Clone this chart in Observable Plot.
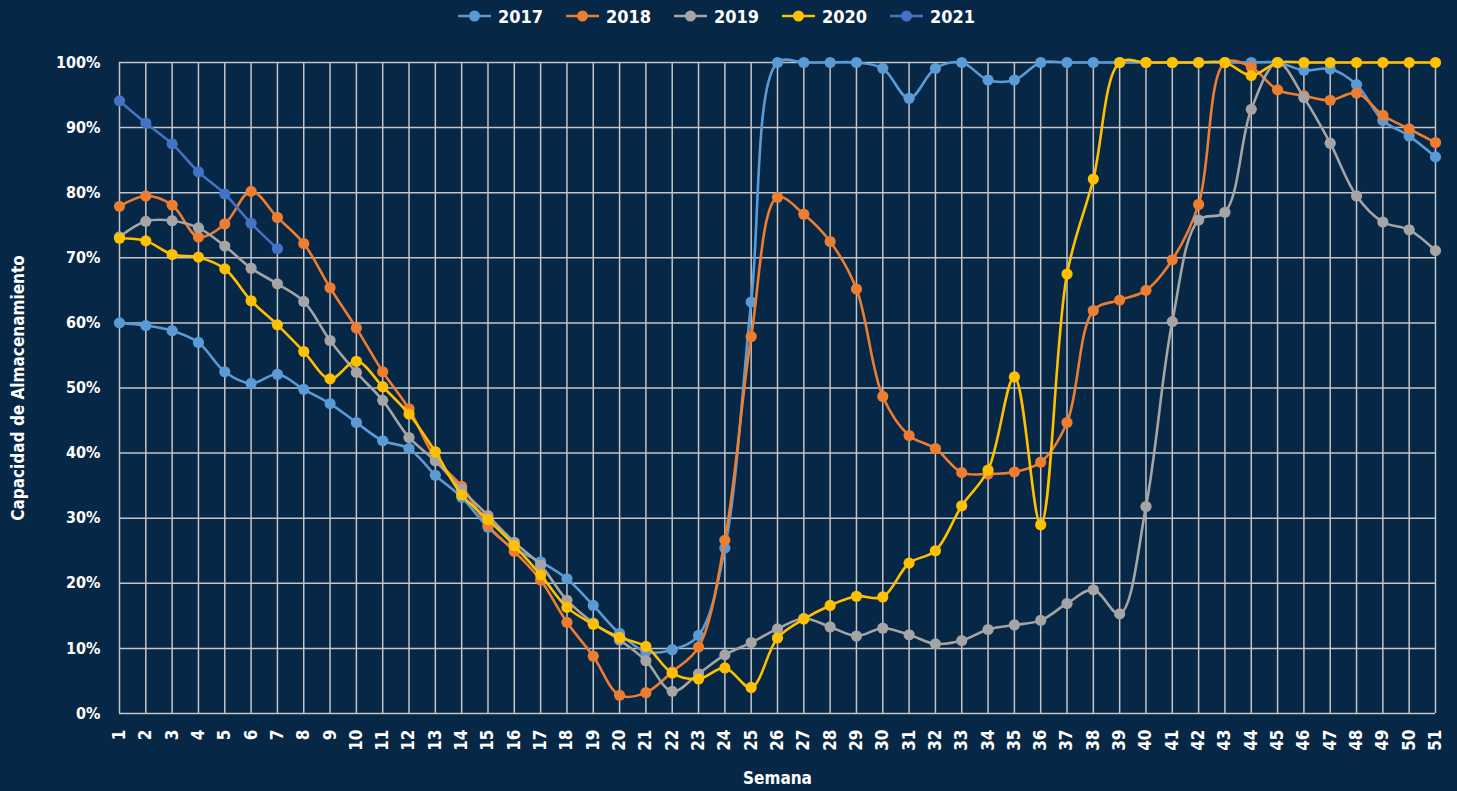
<!DOCTYPE html>
<html><head><meta charset="utf-8">
<script src="https://cdn.jsdelivr.net/npm/d3@7"></script>
<script src="https://cdn.jsdelivr.net/npm/@observablehq/plot@0.6"></script>
<style>
html,body{margin:0;padding:0;background:#072746;width:1457px;height:791px;overflow:hidden;font-family:"DejaVu Sans Condensed","DejaVu Sans",sans-serif;}
#legend{height:32px;display:flex;align-items:center;padding-left:458px;box-sizing:border-box;}
.item{display:inline-flex;align-items:center;width:108px;color:#fff;font-weight:bold;font-size:18px;}
.item svg{margin-right:7px;}
#chart svg{display:block;}
</style></head><body>
<div id="legend"></div>
<div id="chart"></div>
<script>
const weeks = [1,2,3,4,5,6,7,8,9,10,11,12,13,14,15,16,17,18,19,20,21,22,23,24,25,26,27,28,29,30,31,32,33,34,35,36,37,38,39,40,41,42,43,44,45,46,47,48,49,50,51];
const years = ["2017","2018","2019","2020","2021"];
const colors = ["#5B9BD5","#ED7D31","#A5A5A5","#FFC000","#4472C4"];
const v2017 = [60.0,59.6,58.8,57.0,52.5,50.7,52.1,49.8,47.6,44.7,41.9,40.7,36.6,33.2,28.6,25.3,23.3,20.7,16.6,12.3,9.5,9.8,12.0,25.4,63.2,100,100,100,100,99.1,94.5,99.1,100,97.3,97.3,100,100,100,100,100,100,100,100,100,100,98.8,99.0,96.6,91.1,88.7,85.5];
const v2018 = [77.9,79.5,78.1,73.2,75.2,80.2,76.2,72.2,65.4,59.2,52.5,46.8,39.2,34.9,28.9,24.9,20.5,14.0,8.8,2.8,3.2,6.4,10.2,26.6,57.9,79.3,76.7,72.5,65.2,48.7,42.7,40.7,37.0,36.8,37.1,38.6,44.7,61.9,63.5,65.0,69.7,78.2,100,99.3,95.8,94.9,94.2,95.3,91.9,89.8,87.7];
const v2019 = [73.2,75.6,75.7,74.6,71.8,68.4,66.0,63.3,57.3,52.4,48.1,42.4,38.8,34.4,30.4,26.3,22.8,17.4,13.9,11.3,8.1,3.4,6.1,9.0,10.9,13.0,14.6,13.3,11.9,13.1,12.1,10.7,11.2,12.9,13.6,14.3,16.9,19.0,15.3,31.8,60.2,75.8,77.0,92.8,100,94.6,87.6,79.5,75.5,74.3,71.1];
const v2020 = [73.0,72.6,70.5,70.1,68.3,63.4,59.7,55.6,51.4,54.1,50.2,46.0,40.2,33.6,29.8,25.8,21.3,16.3,13.7,11.7,10.3,6.2,5.3,7.0,4.0,11.6,14.5,16.6,18.0,17.9,23.1,25.0,31.9,37.4,51.7,29.0,67.5,82.1,100,100,100,100,100,98.0,100,100,100,100,100,100,100];
const v2021 = [94.1,90.7,87.5,83.2,79.8,75.3,71.4];
const yTicks = [0,10,20,30,40,50,60,70,80,90,100];
const xTitle = "Semana";
const yTitle = "Capacidad de Almacenamiento";

const seriesValues = [v2017, v2018, v2019, v2020, v2021];
const data = [];
years.forEach((yr, i) => seriesValues[i].forEach((v, j) => data.push({year: yr, week: weeks[j], value: v})));

// legend
const leg = document.getElementById("legend");
years.forEach((yr, i) => {
  const d = document.createElement("div");
  d.className = "item";
  d.innerHTML = `<svg width="33" height="14"><line x1="0" y1="7" x2="33" y2="7" stroke="${colors[i]}" stroke-width="2.5"/><circle cx="16.5" cy="7" r="5.5" fill="${colors[i]}"/></svg><span>${yr}</span>`;
  leg.appendChild(d);
});

const grid = "#c4c4c4";
const seriesMarks = [];
years.forEach((yr, i) => {
  const rows = data.filter(d => d.year === yr);
  seriesMarks.push(Plot.line(rows, {x: "week", y: "value", stroke: colors[i], strokeWidth: 2.6, curve: "catmull-rom"}));
  seriesMarks.push(Plot.dot(rows, {x: "week", y: "value", fill: colors[i], r: 5.6}));
});

const plot = Plot.plot({
  width: 1457, height: 759,
  marginTop: 30, marginBottom: 78, marginLeft: 119, marginRight: 22,
  style: {background: "transparent", color: "#fff", fontFamily: "'DejaVu Sans Condensed', 'DejaVu Sans', sans-serif", fontWeight: "bold", overflow: "visible"},
  x: {domain: [1, 51]},
  y: {domain: [0, 100]},
  marks: [
    Plot.ruleX(weeks, {stroke: grid, strokeWidth: 1.5}),
    Plot.ruleY(yTicks, {stroke: grid, strokeWidth: 1.5}),
    Plot.axisY({ticks: yTicks, tickFormat: d => d + "%", tickSize: 0, tickPadding: 19, fontSize: 16, label: null}),
    Plot.axisX({ticks: weeks, tickFormat: d => String(d), tickSize: 0, tickPadding: 6, dy: 10, tickRotate: -90, fontSize: 17, label: null}),
    ...seriesMarks,
    Plot.text([xTitle], {frameAnchor: "bottom", dy: 65, text: d => d, fill: "#fff", fontSize: 17, fontWeight: "bold", textAnchor: "middle", lineAnchor: "middle"}),
    Plot.text([yTitle], {frameAnchor: "left", dx: -101, rotate: -90, text: d => d, fill: "#fff", fontSize: 17, fontWeight: "bold", textAnchor: "middle", lineAnchor: "middle"})
  ]
});
document.getElementById("chart").appendChild(plot);
</script></body></html>
